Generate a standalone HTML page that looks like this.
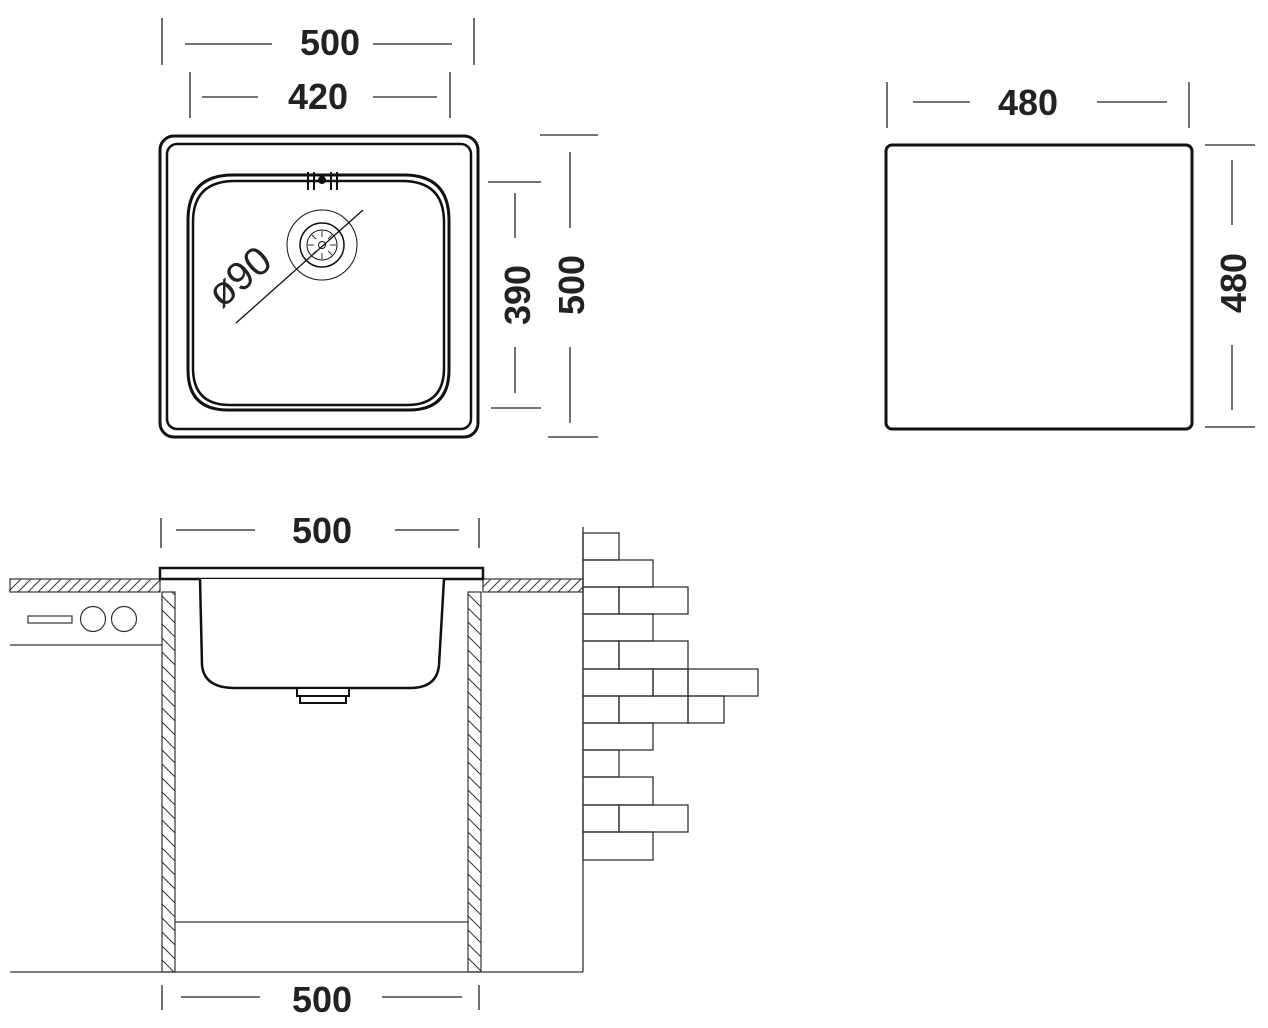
<!DOCTYPE html>
<html><head><style>html,body{margin:0;padding:0;background:#fff}svg{display:block}</style></head>
<body>
<svg width="1268" height="1028" viewBox="0 0 1268 1028" xmlns="http://www.w3.org/2000/svg">
<defs>
<pattern id="h1" width="10" height="10" patternUnits="userSpaceOnUse"><path d="M-2,12 L12,-2 M-12,12 L2,-2 M8,12 L22,-2" stroke="#333" stroke-width="1"/></pattern>
<pattern id="h2" width="14" height="14" patternUnits="userSpaceOnUse"><path d="M-2,-2 L16,16 M-16,-2 L2,16 M12,-2 L30,16" stroke="#333" stroke-width="1"/></pattern>
</defs>
<g font-family="Liberation Sans, sans-serif" font-weight="bold" font-size="36" fill="#222" text-anchor="middle">
<!-- top-left dims -->
<g stroke="#222" stroke-width="1.3">
<line x1="162" y1="18" x2="162" y2="65"/><line x1="474" y1="18" x2="474" y2="65"/>
<line x1="185" y1="44" x2="272" y2="44"/><line x1="373" y1="44" x2="452" y2="44"/>
<line x1="190" y1="72" x2="190" y2="118"/><line x1="450" y1="72" x2="450" y2="118"/>
<line x1="202" y1="97" x2="258" y2="97"/><line x1="373" y1="97" x2="437" y2="97"/>
<line x1="488" y1="182" x2="541" y2="182"/><line x1="491" y1="408" x2="541" y2="408"/>
<line x1="515" y1="193" x2="515" y2="238"/><line x1="515" y1="347" x2="515" y2="393"/>
<line x1="540" y1="135" x2="598" y2="135"/><line x1="548" y1="437" x2="598" y2="437"/>
<line x1="570" y1="152" x2="570" y2="228"/><line x1="570" y1="347" x2="570" y2="423"/>
</g>
<text x="330" y="55">500</text>
<text x="318" y="109">420</text>
<text transform="translate(530,295) rotate(-90)">390</text>
<text transform="translate(584,285) rotate(-90)">500</text>
<!-- sink top view -->
<g fill="none" stroke="#111">
<rect x="160" y="136" width="318" height="301" rx="14" stroke-width="3"/>
<rect x="167" y="144" width="304" height="285" rx="10" stroke-width="2.5"/>
<path d="M233,175 H404 Q449,175 449,220 V370 Q449,410 409,410 H228 Q188,410 188,370 V220 Q188,175 233,175 Z" stroke-width="3"/>
<path d="M235,181 H402 Q444,181 444,222 V368 Q444,405 407,405 H230 Q193,405 193,368 V222 Q193,181 235,181 Z" stroke-width="2.5"/>
<circle cx="322" cy="245" r="35" stroke-width="1"/>
<circle cx="322" cy="245" r="22" stroke-width="1.5"/>
<circle cx="322" cy="245" r="15" stroke-width="1"/>
<circle cx="322" cy="245" r="3.5" stroke-width="1"/>
<line x1="236" y1="323" x2="363" y2="210" stroke-width="1.3"/>
<path d="M308,172 V190 M314,172 V190 M331,172 V190 M337,172 V190" stroke-width="2"/>
</g>
<circle cx="322" cy="180" r="4" fill="#111"/>
<g stroke="#333" stroke-width="1">
<path d="M322,231 V237 M322,253 V259 M308,245 H314 M330,245 H336 M312,235 L316,239 M328,251 L332,255 M332,235 L328,239 M316,251 L312,255"/>
</g>
<text transform="translate(248,287) rotate(-40)" font-weight="normal" font-size="40">ø90</text>
<!-- right rect -->
<rect x="886" y="145" width="306" height="284" rx="6" fill="none" stroke="#111" stroke-width="3"/>
<g stroke="#222" stroke-width="1.3">
<line x1="887" y1="82" x2="887" y2="128"/><line x1="1189" y1="82" x2="1189" y2="128"/>
<line x1="913" y1="102" x2="970" y2="102"/><line x1="1097" y1="102" x2="1167" y2="102"/>
<line x1="1205" y1="145" x2="1255" y2="145"/><line x1="1205" y1="427" x2="1255" y2="427"/>
<line x1="1232" y1="160" x2="1232" y2="225"/><line x1="1232" y1="345" x2="1232" y2="410"/>
</g>
<text x="1028" y="115">480</text>
<text transform="translate(1246,283) rotate(-90)">480</text>
<!-- section view -->
<g stroke="#222" stroke-width="1.3">
<line x1="161" y1="518" x2="161" y2="548"/><line x1="479" y1="518" x2="479" y2="548"/>
<line x1="176" y1="530" x2="255" y2="530"/><line x1="395" y1="530" x2="459" y2="530"/>
<line x1="162" y1="985" x2="162" y2="1010"/><line x1="479" y1="985" x2="479" y2="1010"/>
<line x1="181" y1="997" x2="260" y2="997"/><line x1="382" y1="997" x2="462" y2="997"/>
<line x1="324" y1="570" x2="324" y2="600"/><line x1="324" y1="650" x2="324" y2="680"/>
</g>
<text x="322" y="543">500</text>
<text x="322" y="1012">500</text>
<text x="325" y="637">175</text>
<g stroke="#333" stroke-width="1.2">
<rect x="10" y="579" width="150" height="13" fill="url(#h1)"/>
<rect x="483" y="579" width="100" height="13" fill="url(#h1)"/>
<rect x="162" y="592" width="13" height="380" fill="url(#h2)"/>
<rect x="468" y="592" width="13" height="380" fill="url(#h2)"/>
<line x1="10" y1="972" x2="583" y2="972"/>
<line x1="175" y1="922" x2="468" y2="922"/>
<line x1="10" y1="645" x2="162" y2="645"/>
<rect x="28" y="616" width="44" height="7" fill="none"/>
<circle cx="93" cy="619" r="12.5" fill="none"/>
<circle cx="124" cy="619" r="12.5" fill="none"/>
</g>
<g fill="#fff" stroke="#111" stroke-width="2.5">
<rect x="160" y="568" width="323" height="11"/>
<path d="M200,579 L202,665 Q204,688 235,688 H410 Q437,688 439,665 L444,579"/>
<rect x="297" y="688" width="52" height="8" stroke-width="2"/>
<rect x="300" y="696" width="46" height="7" stroke-width="2"/>
</g>
<!-- bricks -->
<g fill="none" stroke="#333" stroke-width="1.3">
<line x1="583" y1="527" x2="583" y2="972"/>
<rect x="583" y="533" width="36" height="27"/>
<rect x="583" y="560" width="70" height="27"/>
<rect x="583" y="587" width="36" height="27"/><rect x="619" y="587" width="69" height="27"/>
<rect x="583" y="614" width="70" height="27"/>
<rect x="583" y="641" width="36" height="28"/><rect x="619" y="641" width="69" height="28"/>
<rect x="583" y="669" width="70" height="27"/><rect x="653" y="669" width="35" height="27"/><rect x="688" y="669" width="70" height="27"/>
<rect x="583" y="696" width="36" height="27"/><rect x="619" y="696" width="69" height="27"/><rect x="688" y="696" width="36" height="27"/>
<rect x="583" y="723" width="70" height="27"/>
<rect x="583" y="750" width="36" height="27"/>
<rect x="583" y="777" width="70" height="28"/>
<rect x="583" y="805" width="36" height="27"/><rect x="619" y="805" width="69" height="27"/>
<rect x="583" y="832" width="70" height="28"/>
</g>
</g>
</svg>
</body></html>
